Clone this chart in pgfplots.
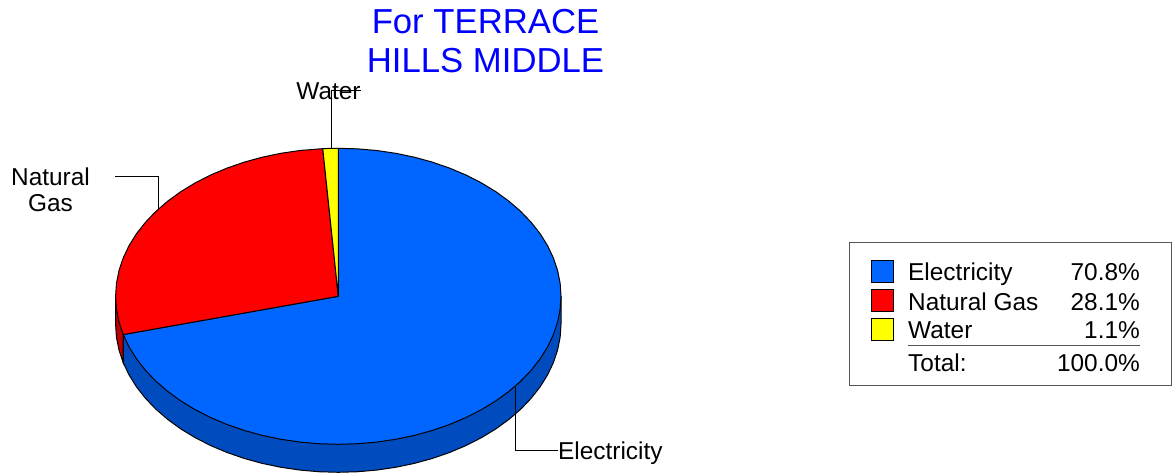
\documentclass[border=0pt]{standalone}
\usepackage{pgfplots}
\pgfplotsset{compat=1.18}
\usepackage{fontspec}
\setmainfont{Liberation Sans}
\definecolor{elec}{HTML}{0066FF}
\definecolor{elecside}{HTML}{004CBF}
\definecolor{gas}{HTML}{FF0000}
\definecolor{gasside}{HTML}{BF0000}
\definecolor{wat}{HTML}{FFFF00}
\definecolor{ruleg}{HTML}{555555}
\pgfplotsset{base/.style={width=1176pt,height=473pt,scale only axis,hide axis,clip=false,anchor=south west,at={(0pt,0pt)}}}
\newcommand{\lab}{\fontsize{24.4}{24}\selectfont}
\newcommand{\ttl}{\fontsize{34.7}{35}\selectfont}
\begin{document}
\begin{tikzpicture}
\useasboundingbox (0pt,0pt) rectangle (1176pt,473pt);
% pie in units of the ellipse radii: centre (338.3,296.3), rx 222.7, ry 148
\begin{axis}[base,xmin=-1.51908,xmax=3.76167,ymin=-1.19392,ymax=2.00203]
% blue side
\addplot[draw=black,line width=1pt,fill=elecside] coordinates {
(1,0)(1,-.1892)(.9962,-.2764)(.9848,-.3628)(.9659,-.4480)(.9397,-.5312)(.9063,-.6118)(.8660,-.6892)(.8192,-.7628)(.7660,-.8320)(.7071,-.8963)(.6428,-.9552)(.5736,-1.0084)(.5,-1.0552)(.4226,-1.0955)(.3420,-1.1289)(.2588,-1.1551)(.1736,-1.1740)(.0872,-1.1854)(0,-1.1892)(-.0872,-1.1854)(-.1736,-1.1740)(-.2588,-1.1551)(-.3420,-1.1289)(-.4226,-1.0955)(-.5,-1.0552)(-.5736,-1.0084)(-.6428,-.9552)(-.7071,-.8963)(-.7660,-.8320)(-.8192,-.7628)(-.8660,-.6892)(-.9063,-.6118)(-.9397,-.5312)(-.9659,-.4480)(-.9659,-.2588)} -- cycle;
% red side
\addplot[draw=black,line width=1pt,fill=gasside] coordinates {
(-.9659,-.2588)(-.9659,-.4480)(-.9848,-.3628)(-.9962,-.2764)(-1,-.1892)(-1,0)} -- cycle;
% blue top: 70.8 %
\addplot[draw=black,line width=1pt,fill=elec] coordinates {
(0,0)(0,1)(.0872,.9962)(.1736,.9848)(.2588,.9659)(.3420,.9397)(.4226,.9063)(.5,.8660)(.5736,.8192)(.6428,.7660)(.7071,.7071)(.7660,.6428)(.8192,.5736)(.8660,.5)(.9063,.4226)(.9397,.3420)(.9659,.2588)(.9848,.1736)(.9962,.0872)(1,0)(.9962,-.0872)(.9848,-.1736)(.9659,-.2588)(.9397,-.3420)(.9063,-.4226)(.8660,-.5)(.8192,-.5736)(.7660,-.6428)(.7071,-.7071)(.6428,-.7660)(.5736,-.8192)(.5,-.8660)(.4226,-.9063)(.3420,-.9397)(.2588,-.9659)(.1736,-.9848)(.0872,-.9962)(0,-1)(-.0872,-.9962)(-.1736,-.9848)(-.2588,-.9659)(-.3420,-.9397)(-.4226,-.9063)(-.5,-.8660)(-.5736,-.8192)(-.6428,-.7660)(-.7071,-.7071)(-.7660,-.6428)(-.8192,-.5736)(-.8660,-.5)(-.9063,-.4226)(-.9397,-.3420)(-.9659,-.2588)} -- cycle;
% red top: 28.1 %
\addplot[draw=black,line width=1pt,fill=gas] coordinates {
(0,0)(-.9659,-.2588)(-.9848,-.1736)(-.9962,-.0872)(-1,0)(-.9962,.0872)(-.9848,.1736)(-.9659,.2588)(-.9397,.3420)(-.9063,.4226)(-.8660,.5)(-.8192,.5736)(-.7660,.6428)(-.7071,.7071)(-.6428,.7660)(-.5736,.8192)(-.5,.8660)(-.4226,.9063)(-.3420,.9397)(-.2588,.9659)(-.1736,.9848)(-.0698,.9976)} -- cycle;
% yellow top: 1.1 %
\addplot[draw=black,line width=1pt,fill=wat] coordinates {
(0,0)(-.0698,.9976)(-.0349,.9994)(0,1)} -- cycle;
\end{axis}
% everything else in picture pixels
\begin{axis}[base,xmin=0,xmax=1176,ymin=0,ymax=473,y dir=reverse]
% leaders
\addplot[draw=black,line width=1pt] coordinates {(361,90.5)(331,90.5)(331,148)};
\addplot[draw=black,line width=1pt] coordinates {(115,176.5)(158,176.5)(158,210)};
\addplot[draw=black,line width=1pt] coordinates {(515,387)(515,450)(558,450)};
% legend box
\addplot[draw=ruleg,line width=1pt] coordinates {(849,242.5)(1171,242.5)(1171,385.5)(849,385.5)} -- cycle;
\addplot[draw=black,line width=1pt,fill=elec] coordinates {(871.5,261)(893.5,261)(893.5,283)(871.5,283)} -- cycle;
\addplot[draw=black,line width=1pt,fill=gas] coordinates {(871.5,289.5)(893.5,289.5)(893.5,311.5)(871.5,311.5)} -- cycle;
\addplot[draw=black,line width=1pt,fill=wat] coordinates {(871.5,318.5)(893.5,318.5)(893.5,340.5)(871.5,340.5)} -- cycle;
\addplot[draw=ruleg,line width=1pt] coordinates {(908,345.7)(1140,345.7)};
% texts
\node[anchor=base,text=blue,inner sep=0pt] at (axis cs:485.5,34) {\ttl For TERRACE};
\node[anchor=base,text=blue,inner sep=0pt] at (axis cs:485.5,73) {\ttl HILLS MIDDLE};
\node[anchor=base,inner sep=0pt] at (axis cs:328.5,100) {\lab Water};
\node[anchor=base,inner sep=0pt] at (axis cs:50.5,186) {\lab Natural};
\node[anchor=base,inner sep=0pt] at (axis cs:50.5,212) {\lab Gas};
\node[anchor=base west,inner sep=0pt] at (axis cs:558,459) {\lab Electricity};
\node[anchor=base west,inner sep=0pt] at (axis cs:908,281) {\lab Electricity};
\node[anchor=base west,inner sep=0pt] at (axis cs:908,310) {\lab Natural Gas};
\node[anchor=base west,inner sep=0pt] at (axis cs:908,338.5) {\lab Water};
\node[anchor=base west,inner sep=0pt] at (axis cs:908,371) {\lab Total:};
\node[anchor=base east,inner sep=0pt] at (axis cs:1140,281) {\lab 70.8\%};
\node[anchor=base east,inner sep=0pt] at (axis cs:1140,310) {\lab 28.1\%};
\node[anchor=base east,inner sep=0pt] at (axis cs:1140,338.5) {\lab 1.1\%};
\node[anchor=base east,inner sep=0pt] at (axis cs:1140,371) {\lab 100.0\%};
\end{axis}
\end{tikzpicture}
\end{document}
